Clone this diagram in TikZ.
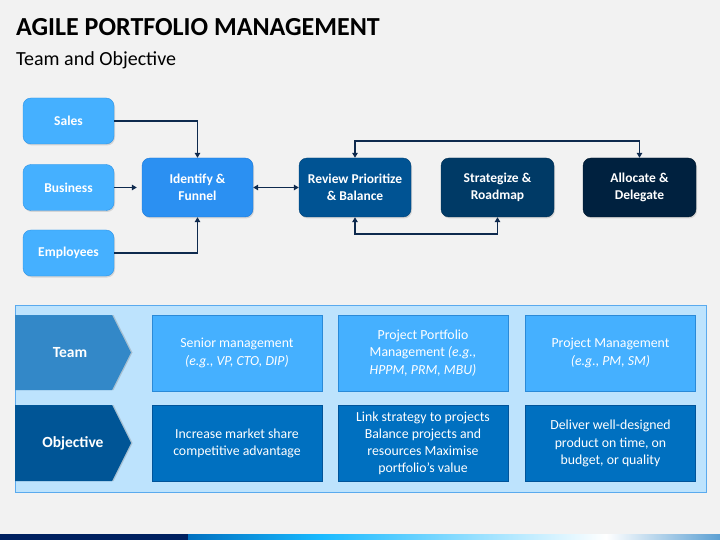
\documentclass[tikz,border=0pt]{standalone}
\usepackage{fontspec}
\setmainfont{Carlito}
\usetikzlibrary{arrows.meta,shadows}
\definecolor{pagebg}{HTML}{F2F2F2}
\definecolor{infill}{HTML}{45B0FF}
\definecolor{inedge}{HTML}{2D93E6}
\definecolor{identfill}{HTML}{2B90F2}
\definecolor{identedge}{HTML}{1A78D6}
\definecolor{reviewfill}{HTML}{005393}
\definecolor{stratfill}{HTML}{003A66}
\definecolor{allocfill}{HTML}{00213F}
\definecolor{linkc}{HTML}{0E2A4E}
\definecolor{panelfill}{HTML}{BDE3FD}
\definecolor{paneledge}{HTML}{5AAAEE}
\definecolor{teamc}{HTML}{3388C8}
\definecolor{objc}{HTML}{005596}
\definecolor{teamcell}{HTML}{45B0FF}
\definecolor{teamcelledge}{HTML}{2A8AD8}
\definecolor{objcell}{HTML}{0070C0}
\definecolor{objcelledge}{HTML}{00549A}
\definecolor{navy}{HTML}{002060}
\begin{document}
\begin{tikzpicture}[x=1pt,y=1pt,yscale=-1,
  boxshadow/.style={drop shadow={shadow xshift=1pt,shadow yshift=-1.5pt,opacity=0.25}},
  inbox/.style={draw=inedge,fill=infill,rounded corners=8pt,minimum width=91pt,minimum height=46pt,
    inner sep=0pt,text=white,align=center,font=\bfseries\fontsize{13.5}{16.5}\selectfont,boxshadow},
  flowbox/.style={rounded corners=8pt,minimum width=112pt,minimum height=59pt,
    inner sep=0pt,text=white,align=center,font=\bfseries\fontsize{13.5}{16.5}\selectfont,boxshadow},
  link/.style={draw=linkc,line width=1.6pt,-{Triangle[length=5pt,width=5.5pt]}},
  bilink/.style={draw=linkc,line width=1.6pt,{Triangle[length=5pt,width=5.5pt]}-{Triangle[length=5pt,width=5.5pt]}},
  rowlabel/.style={text=white,font=\bfseries\fontsize{15.5}{18}\selectfont},
  cell/.style={minimum width=170pt,minimum height=76pt,inner sep=0pt,text=white,align=center,
    font=\fontsize{13.8}{17.2}\selectfont},
  teamcellbox/.style={cell,draw=teamcelledge,fill=teamcell},
  objcellbox/.style={cell,draw=objcelledge,fill=objcell}]
% page
\fill[pagebg] (0,0) rectangle (720,540);
\useasboundingbox (0,0) rectangle (720,540);
% title
\node[anchor=base west,inner sep=0pt,font=\bfseries\fontsize{26}{30}\selectfont] (title) at (16,36) {AGILE PORTFOLIO MANAGEMENT};
\node[anchor=base west,inner sep=0pt,font=\fontsize{20}{23}\selectfont] (subtitle) at (16,65.5) {Team and Objective};
% inputs
\node[inbox] (sales) at (68.5,121) {Sales};
\node[inbox] (biz) at (68.5,187.5) {Business};
\node[inbox] (emp) at (68.5,253) {Employees};
% flow
\node[flowbox,draw=identedge,fill=identfill,minimum width=111pt] (ident) at (197.5,187.5) {Identify \&\\Funnel};
\node[flowbox,draw=reviewfill!80!black,fill=reviewfill] (review) at (355,187.5) {Review Prioritize\\\& Balance};
\node[flowbox,draw=stratfill!80!black,fill=stratfill,minimum width=113pt] (strat) at (497.5,187.5) {Strategize \&\\Roadmap};
\node[flowbox,draw=allocfill!70!black,fill=allocfill,minimum width=113pt] (alloc) at (639.5,187.5) {Allocate \&\\Delegate};
% connectors
\draw[link] (sales.east) -| (ident.north);
\draw[link,shorten >=5pt] (biz.east) -- (ident.west);
\draw[link] (emp.east) -| (ident.south);
\draw[bilink] (ident.east) -- (review.west);
\draw[bilink] (review.north) -- ++(0,-17) -| (alloc.north);
\draw[bilink] (review.south) -- ++(0,17) -| (strat.south);
% table
\draw[paneledge,fill=panelfill] (15,305) rectangle (706,492);
\fill[teamc,drop shadow={shadow xshift=1.5pt,shadow yshift=0pt,opacity=0.35}] (15,315) -- (112,315) -- (131,352.5) -- (112,390) -- (15,390) -- cycle;
\fill[objc,drop shadow={shadow xshift=1.5pt,shadow yshift=0pt,opacity=0.35}] (15,405) -- (112,405) -- (131,443) -- (112,481) -- (15,481) -- cycle;
\node[rowlabel] (team) at (70,353) {Team};
\node[rowlabel] (objective) at (73,443) {Objective};
\node[teamcellbox] (senior) at (237,353) {Senior management\\\textit{(e.g., VP, CTO, DIP)}};
\node[teamcellbox] (ppm) at (423,353) {Project Portfolio\\Management \textit{(e.g.,}\\\textit{HPPM, PRM, MBU)}};
\node[teamcellbox] (pm) at (610.5,353) {Project Management\\\textit{(e.g., PM, SM)}};
\node[objcellbox] (market) at (237,443.5) {Increase market share\\competitive advantage};
\node[objcellbox] (link) at (423,443.5) {Link strategy to projects\\Balance projects and\\resources Maximise\\portfolio’s value};
\node[objcellbox] (deliver) at (610.5,443.5) {Deliver well-designed\\product on time, on\\budget, or quality};
% bottom strip
\fill[navy] (0,534) rectangle (188,540);
\shade[left color=objcell,right color=cyan!70!blue!90!white] (188,534) rectangle (321,540);
\shade[left color=cyan!70!blue!90!white,right color=white] (321,534) rectangle (606,540);
\shade[left color=white,right color=teamc!80!white] (606,534) rectangle (720,540);
\end{tikzpicture}
\end{document}
